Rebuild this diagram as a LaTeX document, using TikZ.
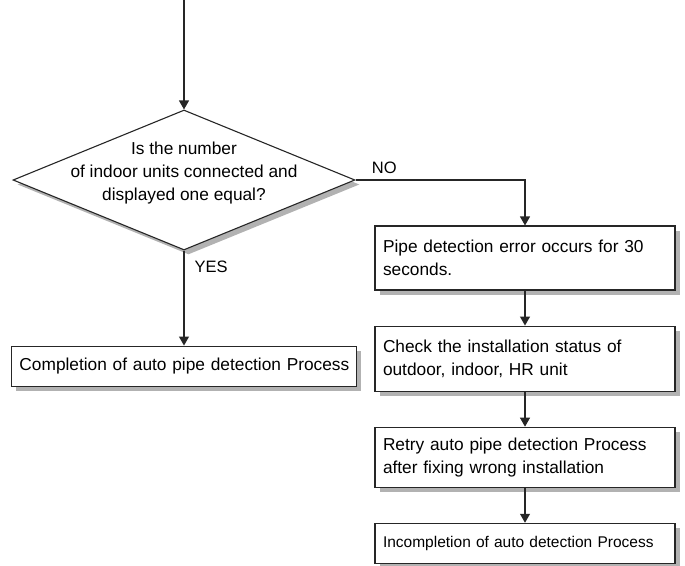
\documentclass[tikz,border=0pt]{standalone}
\usepackage{fontspec}
\setmainfont{Liberation Sans}
\usetikzlibrary{arrows.meta,positioning,shapes.geometric,shadows}

\begin{document}
\begin{tikzpicture}[
  x=1pt, y=-1pt,
  font=\fontsize{17.3}{23}\selectfont,
  node distance=35pt,
  shade/.style={drop shadow={shadow xshift=4.5pt, shadow yshift=-4.5pt,
              fill=black!30, opacity=1}},
  procbox/.style={draw=black!85, line width=1.1pt, fill=white, align=left,
              inner xsep=8pt, text width=284pt, shade},
  dec/.style={diamond, draw=black!85, line width=1.1pt, fill=white,
              inner sep=0pt, minimum width=342pt, minimum height=140pt, shade},
  lbl/.style={inner sep=2pt, font=\fontsize{16.5}{20}\selectfont},
  arr/.style={draw=black!85, line width=1.1pt, -{Triangle[width=10pt,length=9pt]}}
]
\useasboundingbox (0,0) rectangle (685,565);
\coordinate (top) at (184,0);
\node[dec] (dec) at (184,180) {\makebox[0pt]{\smash{\raisebox{3pt}{\begin{tabular}{@{}c@{}}Is the number\\of indoor units connected and\\displayed one equal?\end{tabular}}}}};
\node[procbox, below=95pt of dec, text width=329pt, minimum height=40pt] (done) {\mbox{Completion of auto pipe detection Process}};
\node[procbox, minimum height=64pt] (err) at (525,258) {Pipe detection error occurs for 30\\seconds.};
\node[procbox, below=of err, minimum height=65pt] (check) {Check the installation status of\\outdoor, indoor, HR unit};
\node[procbox, below=of check, minimum height=60pt] (retry) {Retry auto pipe detection Process\\after fixing wrong installation};
\node[procbox, below=of retry, minimum height=40pt, font=\fontsize{15.5}{20}\selectfont] (incomp) {\mbox{Incompletion of auto detection Process}};
\draw[arr] (top) -- (dec.north);
\draw[arr] (dec.east) -| node[lbl, pos=0.085, above=4pt] {NO} (err.north);
\draw[arr] (dec.south) -- node[lbl, pos=0.17, right=8pt] {YES} (done.north);
\draw[arr] (err) -- (check);
\draw[arr] (check) -- (retry);
\draw[arr] (retry) -- (incomp);
\end{tikzpicture}
\end{document}
